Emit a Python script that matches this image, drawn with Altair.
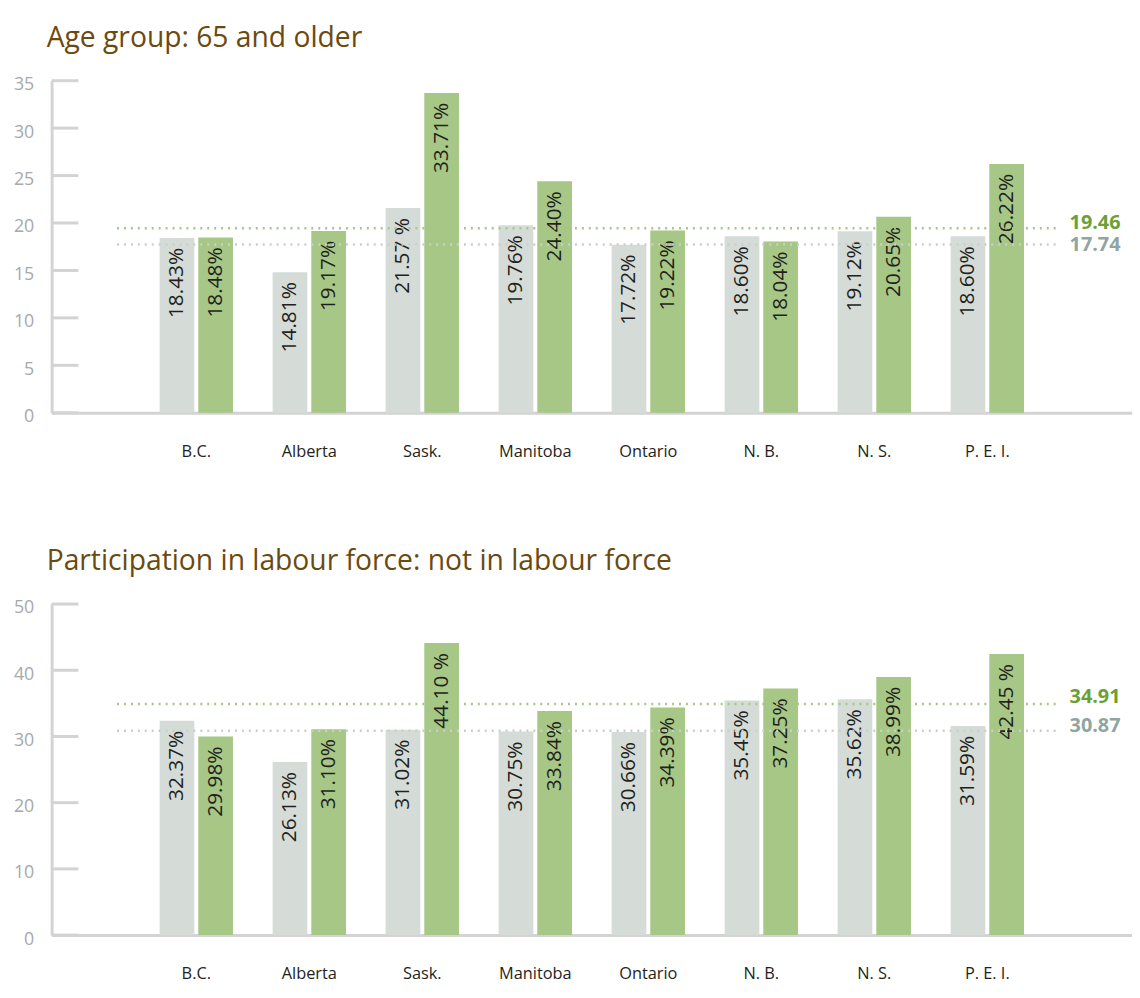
import altair as alt
import pandas as pd

provinces = ["B.C.", "Alberta", "Sask.", "Manitoba", "Ontario", "N. B.", "N. S.", "P. E. I."]
series_names = ["Series 1", "Series 2"]

age_s1 = [18.43, 14.81, 21.57, 19.76, 17.72, 18.60, 19.12, 18.60]
age_s2 = [18.48, 19.17, 33.71, 24.40, 19.22, 18.04, 20.65, 26.22]
age_s1_labels = ["18.43%", "14.81%", "21.57 %", "19.76%", "17.72%", "18.60%", "19.12%", "18.60%"]
age_s2_labels = ["18.48%", "19.17%", "33.71%", "24.40%", "19.22%", "18.04%", "20.65%", "26.22%"]
age_avg = [17.74, 19.46]
age_ticks = [0, 5, 10, 15, 20, 25, 30, 35]

lab_s1 = [32.37, 26.13, 31.02, 30.75, 30.66, 35.45, 35.62, 31.59]
lab_s2 = [29.98, 31.10, 44.10, 33.84, 34.39, 37.25, 38.99, 42.45]
lab_s1_labels = ["32.37%", "26.13%", "31.02%", "30.75%", "30.66%", "35.45%", "35.62%", "31.59%"]
lab_s2_labels = ["29.98%", "31.10%", "44.10 %", "33.84%", "34.39%", "37.25%", "38.99%", "42.45 %"]
lab_avg = [30.87, 34.91]
lab_ticks = [0, 10, 20, 30, 40, 50]

GREY = "#d5dcd8"
GREEN = "#a6c785"
GREY_TXT = "#8fa59f"
GREEN_TXT = "#6c9f35"
AXIS = "#d3d3d3"
FONT = "Open Sans"

W = 1090


def panel(title, s1, s2, l1, l2, avg, ticks, ymax, height, avg_dy):
    rows = []
    for i, p in enumerate(provinces):
        rows.append({"prov": p, "series": series_names[0], "value": s1[i], "label": l1[i]})
        rows.append({"prov": p, "series": series_names[1], "value": s2[i], "label": l2[i]})
    df = pd.DataFrame(rows)
    avg_df = pd.DataFrame({"series": series_names, "avg": avg,
                           "txt": [f"{a:.2f}" for a in avg]})
    tick_df = pd.DataFrame({"t": ticks})

    yscale = alt.Scale(domain=[0, ymax], nice=False, zero=True)
    xenc = alt.X("prov:N", sort=provinces, title=None,
                 scale=alt.Scale(paddingInner=0.351, paddingOuter=0.956),
                 axis=alt.Axis(domainColor=AXIS, domainWidth=3, ticks=False,
                               labelAngle=0, labelFont=FONT, labelFontSize=16.5,
                               labelColor="#231f20", labelPadding=31,
                               labelBaseline="top"))
    xoff = alt.XOffset("series:N", sort=series_names,
                       scale=alt.Scale(paddingInner=0.103))
    color = alt.Color("series:N", sort=series_names, legend=None,
                      scale=alt.Scale(domain=series_names, range=[GREY, GREEN]))

    bars = alt.Chart(df).mark_bar().encode(
        x=xenc,
        xOffset=xoff,
        y=alt.Y("value:Q", scale=yscale, title=None,
                axis=alt.Axis(values=ticks, domainColor=AXIS, domainWidth=3,
                              ticks=False, grid=False, labelFont=FONT,
                              labelFontSize=18, labelColor="#a7a9ac",
                              labelPadding=18, labelOffset=4, minExtent=44,
                              maxExtent=44)),
        color=color,
    )
    texts = alt.Chart(df).mark_text(angle=270, align="right", baseline="middle",
                                    dx=-10, font=FONT, fontSize=21,
                                    color="#231f20").encode(
        x=alt.X("prov:N", sort=provinces),
        xOffset=xoff,
        y=alt.Y("value:Q", scale=yscale),
        text="label:N",
    )
    rules = alt.Chart(avg_df).mark_rule(strokeDash=[2, 5], strokeWidth=2.5).encode(
        x=alt.value(66), x2=alt.value(1015),
        y=alt.Y("avg:Q", scale=yscale),
        color=alt.Color("series:N", sort=series_names, legend=None,
                        scale=alt.Scale(domain=series_names, range=["#c8d0cc", GREEN])),
    )
    avg_layers = []
    for name, col, dy in zip(series_names, [GREY_TXT, GREEN_TXT], avg_dy):
        avg_layers.append(
            alt.Chart(avg_df).transform_filter(alt.datum.series == name)
            .mark_text(align="left", baseline="middle", font=FONT, fontSize=20,
                       fontWeight="bold", color=col, dy=dy)
            .encode(x=alt.value(1027), y=alt.Y("avg:Q", scale=yscale), text="txt:N")
        )
    tick_rules = alt.Chart(tick_df).mark_rule(color=AXIS, strokeWidth=3).encode(
        x=alt.value(0), x2=alt.value(27),
        y=alt.Y("t:Q", scale=yscale),
    )
    return alt.layer(bars, texts, rules, *avg_layers, tick_rules).resolve_scale(
        color="independent"
    ).properties(
        width=W, height=height,
        title=alt.TitleParams(title, anchor="start", frame="group", dx=-5,
                              font=FONT, fontSize=28.5, fontWeight="normal",
                              color="#6b4a0f", offset=24),
    )


top = panel("Age group: 65 and older", age_s1, age_s2, age_s1_labels,
            age_s2_labels, age_avg, age_ticks, 35, 335, [1, -5])
bottom = panel("Participation in labour force: not in labour force", lab_s1,
               lab_s2, lab_s1_labels, lab_s2_labels, lab_avg, lab_ticks, 50, 334,
               [-5, -7])

chart = alt.vconcat(top, bottom, spacing=87).properties(
    padding={"top": 11, "left": 0, "right": 0, "bottom": 0}
).configure_view(stroke=None)

chart.save("out.html", embed_options={"renderer": "svg", "actions": False})
